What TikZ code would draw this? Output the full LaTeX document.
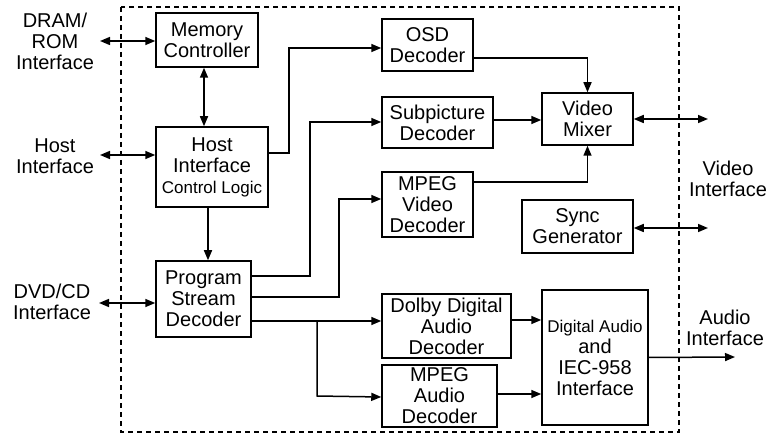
\documentclass[tikz,border=0pt]{standalone}
\usepackage{fontspec}
\setmainfont{Liberation Sans}
\usetikzlibrary{arrows.meta,calc}
\begin{document}
\begin{tikzpicture}[x=1pt,y=-1pt,
  blk/.style={draw,line width=1.5pt,inner sep=0pt,align=center,font=\fontsize{20}{21}\selectfont},
  lbl/.style={inner sep=0pt,align=center,font=\fontsize{20}{21}\selectfont},
  wire/.style={line width=1.5pt},
  arr/.style={wire,-{Triangle[length=10pt,width=8pt]}},
  darr/.style={wire,{Triangle[length=10pt,width=8pt]}-{Triangle[length=10pt,width=8pt]}}]
\useasboundingbox (0,0) rectangle (778,435);
\draw[line width=1.4pt,dash pattern=on 5pt off 4pt] (121,7) rectangle (679,432);

\node[blk,minimum width=102pt,minimum height=54pt] (mem) at (207,40) {Memory\\Controller};
\node[blk,minimum width=112pt,minimum height=80pt] (host) at (212,167) {Host\\Interface\\{\fontsize{17}{21}\selectfont Control Logic}};
\node[blk,minimum width=95pt,minimum height=76pt] (psd) at (203.5,299) {Program\\Stream\\Decoder};
\node[blk,minimum width=91pt,minimum height=52pt] (osd) at (427.5,45) {OSD\\Decoder};
\node[blk,minimum width=111pt,minimum height=51pt] (sub) at (437.5,122.5) {Subpicture\\Decoder};
\node[blk,minimum width=91pt,minimum height=65pt] (mpv) at (427.5,204.5) {MPEG\\Video\\Decoder};
\node[blk,minimum width=91pt,minimum height=52pt] (vmx) at (587.5,119) {Video\\Mixer};
\node[blk,minimum width=111pt,minimum height=53pt] (sync) at (577.5,226.5) {Sync\\Generator};
\node[blk,minimum width=129pt,minimum height=64pt] (dolby) at (446.5,326) {Dolby Digital\\Audio\\Decoder};
\node[blk,minimum width=115pt,minimum height=62pt] (mpa) at (439.5,396) {MPEG\\Audio\\Decoder};
\node[blk,minimum width=106pt,minimum height=135pt] (dai) at (595,357.5) {{\fontsize{17}{21}\selectfont Digital Audio}\\and\\IEC-958\\Interface};

\node[lbl] (ldram) at (55,41) {DRAM/\\ROM\\Interface};
\node[lbl] (lhost) at (55,156) {Host\\Interface};
\node[lbl] (ldvd) at (52,302) {DVD/CD\\Interface};
\node[lbl] (lvid) at (728,179) {Video\\Interface};
\node[lbl] (laud) at (725,328) {Audio\\Interface};

\coordinate (edram) at (100,41);
\coordinate (ehost) at (100,155);
\coordinate (edvd) at (99,303);
\coordinate (evmx) at (708,119);
\coordinate (esync) at (708,228);
\coordinate (eaud) at (735,357);
\coordinate (tap) at (317,321);

\draw[darr] (edram) -- (edram -| mem.west);
\draw[darr] (ehost) -- (ehost -| host.west);
\draw[darr] (edvd) -- (edvd -| psd.west);
\draw[darr] ([xshift=-3pt]mem.south) -- ([xshift=-8pt]host.north);
\draw[arr] ([xshift=-4pt]host.south) -- ([xshift=4.5pt]psd.north);

\draw[arr] ([yshift=14pt]host.east) -| (289,48) -- (289,48 -| osd.west);
\draw[arr] ([yshift=23pt]psd.east) -| (310,122) -- (310,122 -| sub.west);
\draw[arr] ([yshift=2pt]psd.east) -| (339,199) -- (339,199 -| mpv.west);
\draw[arr] ([yshift=-22pt]psd.east) -- ([yshift=5pt]dolby.west);
\draw[arr] (tap) |- (tap |- mpa.west) -- ([yshift=-1pt]mpa.west);

\draw[arr] ([yshift=-13pt]osd.east) -| (vmx.north);
\draw[arr] ([yshift=2.5pt]sub.east) -- ([yshift=-1pt]vmx.west);
\draw[arr] ([yshift=22.5pt]mpv.east) -| (vmx.south);
\draw[darr] (vmx.east) -- (evmx);
\draw[darr] ([yshift=-1.5pt]sync.east) -- (esync);

\draw[arr] (dolby.east |- 0,320) -- (dai.west |- 0,320);
\draw[arr] (mpa.east |- 0,394) -- (dai.west |- 0,394);
\draw[arr] (dai.east) -- (eaud);
\end{tikzpicture}
\end{document}
